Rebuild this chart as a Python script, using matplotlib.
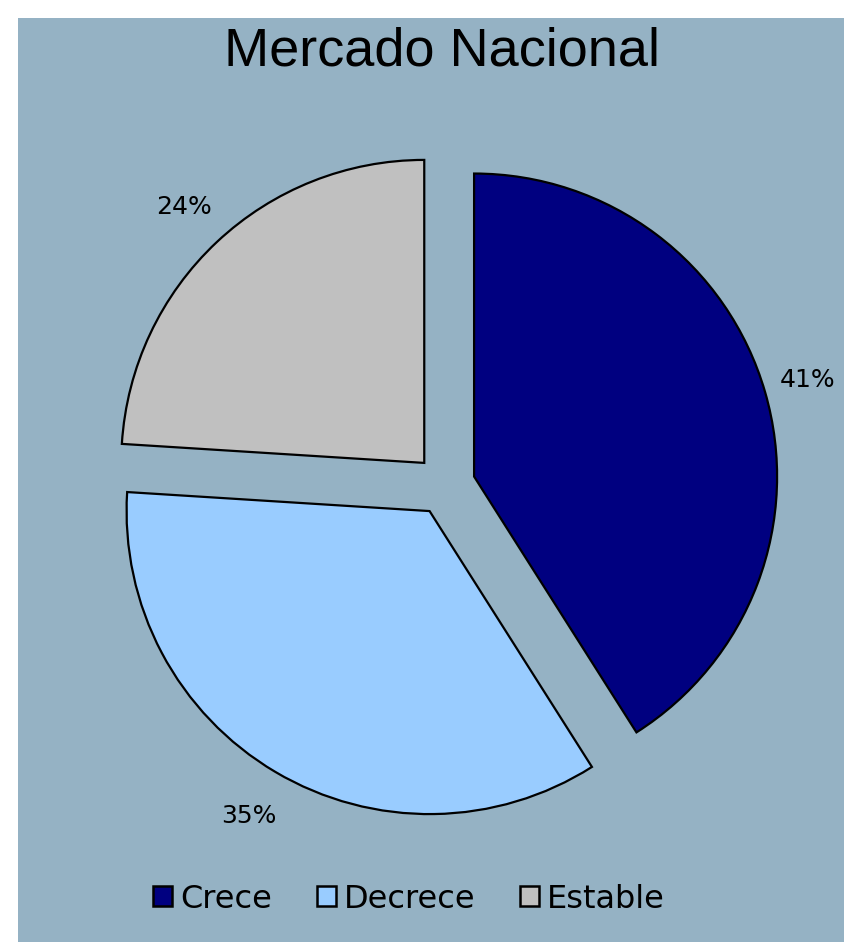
import numpy as np
import matplotlib.pyplot as plt
from matplotlib.patches import Rectangle, Patch

# data
categories = ["Crece", "Decrece", "Estable"]
shares = [41, 35, 24]
colors = ["#000080", "#99CCFF", "#C0C0C0"]
label_dist = [1.145, 1.17, 1.16]

bg = "#95B2C4"
W, H = 845, 942
cx, cy, R = 445, 485, 303  # pie centre / radius in pixels

fig = plt.figure(figsize=(W / 100, H / 100), dpi=100, facecolor="white")
fig.patches.append(Rectangle((18 / W, 0), 1, (H - 18) / H, transform=fig.transFigure,
                             facecolor=bg, edgecolor="none", zorder=-10))

ax = fig.add_axes([0, 0, 1, 1])
ax.set_facecolor("none")
ax.set_zorder(5)
wedges, _ = ax.pie(shares, colors=colors, startangle=90, counterclock=False,
                   explode=[0.1, 0.1, 0.1], radius=1,
                   wedgeprops=dict(edgecolor="black", linewidth=1.6))

for w, d, v in zip(wedges, label_dist, shares):
    ang = np.deg2rad((w.theta1 + w.theta2) / 2)
    x0, y0 = w.center
    ax.text(x0 + d * np.cos(ang), y0 + d * np.sin(ang), f"{v}%",
            ha="center", va="center", fontsize=18, family="DejaVu Sans")

ax.set_xlim(-cx / R, (W - cx) / R)
ax.set_ylim((cy - H) / R, cy / R)
ax.set_aspect("auto")
ax.axis("off")

fig.text(442 / W, 1 - 52 / H, "Mercado Nacional", ha="center", va="center",
         fontsize=39, family="Liberation Sans")

handles = [Patch(facecolor=c, edgecolor="black", linewidth=1.8) for c in colors]
fig.legend(handles, categories, loc="center", bbox_to_anchor=(409 / W, 1 - 899 / H),
           ncol=3, frameon=False, prop=dict(family="DejaVu Sans", size=23),
           handlelength=0.6, handleheight=0.6, handletextpad=0.25, columnspacing=1.4)

fig.savefig("out.png", dpi=100, facecolor="white")
